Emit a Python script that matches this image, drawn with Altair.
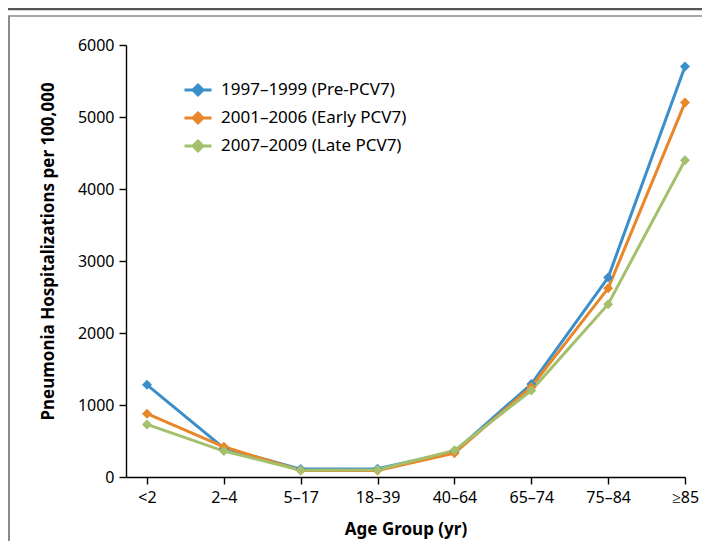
import altair as alt
import pandas as pd

age_groups = ["<2", "2\u20134", "5\u201317", "18\u201339", "40\u201364", "65\u201374", "75\u201384", "\u226585"]
series_names = ["1997\u20131999 (Pre-PCV7)", "2001\u20132006 (Early PCV7)", "2007\u20132009 (Late PCV7)"]
pre_pcv7 = [1280, 400, 110, 115, 350, 1290, 2770, 5700]
early_pcv7 = [880, 420, 90, 90, 330, 1250, 2620, 5200]
late_pcv7 = [730, 360, 95, 100, 370, 1200, 2400, 4400]
colors = ["#3a8fca", "#e8862a", "#a4c06c"]

rows = []
for name, vals in zip(series_names, [pre_pcv7, early_pcv7, late_pcv7]):
    for g, v in zip(age_groups, vals):
        rows.append({"age": g, "rate": v, "period": name})
df = pd.DataFrame(rows)

FONT = "Noto Sans"
W, H = 559, 432
RIGHT = 17

axis_common = dict(domainColor="#000000", tickColor="#000000", labelColor="#000000",
                   titleColor="#000000", labelFont=FONT, titleFont=FONT,
                   titleFontWeight="bold", domainWidth=1.4,
                   tickWidth=1.4, labelFontSize=16, tickSize=7, grid=False)

xenc = alt.X("age:N", sort=age_groups,
             scale=alt.Scale(type="point", padding=0.1366, align=1),
             axis=alt.Axis(title="Age Group (yr)", labelAngle=0, titleFontSize=17,
                           labelPadding=5, titlePadding=16, **axis_common))
yenc = alt.Y("rate:Q", scale=alt.Scale(domain=[0, 6000], nice=False),
             axis=alt.Axis(title="Pneumonia Hospitalizations per 100,000",
                           values=[0, 1000, 2000, 3000, 4000, 5000, 6000], format="d",
                           titleFontSize=17, titleY=206,
                           labelPadding=5, titlePadding=20, **axis_common))
legend = alt.Legend(
    title=None, orient="none", legendX=57, legendY=30,
    symbolType="M-1,0L1,0M0,-0.37L0.37,0L0,0.37L-0.37,0Z",
    symbolSize=729, symbolStrokeWidth=3, labelFontSize=17, labelColor="#000000",
    labelOffset=8, rowPadding=2, labelFont=FONT, symbolOpacity=1, labelLimit=400)
cenc = alt.Color("period:N", sort=series_names,
                 scale=alt.Scale(domain=series_names, range=colors),
                 legend=legend)

base = alt.Chart(df)
lines = base.mark_line(strokeWidth=3).encode(x=xenc, y=yenc, color=cenc, detail="period:N")
points = base.mark_point(shape="diamond", filled=True, size=100, opacity=1).encode(
    x=xenc, y=yenc, color=cenc)

one = pd.DataFrame({"a": [0]})
top_line = alt.Chart(one).mark_rule(color="#555555", strokeWidth=2.5).encode(
    x=alt.value(-118), x2=alt.value(W + RIGHT), y=alt.value(-36))
box_top = alt.Chart(one).mark_rule(color="#8a8a8a", strokeWidth=1.5).encode(
    x=alt.value(-117), x2=alt.value(W + RIGHT), y=alt.value(-29))
box_left = alt.Chart(one).mark_rule(color="#8a8a8a", strokeWidth=2).encode(
    x=alt.value(-117), y=alt.value(-29.7), y2=alt.value(H + 80))

chart = alt.layer(top_line, box_top, box_left, lines, points).properties(
    width=W, height=H,
    autosize=alt.AutoSizeParams(type="none"),
    padding={"left": 118, "top": 37, "right": RIGHT, "bottom": 64},
    background="white",
).configure_view(stroke=None)

chart.save("out.html", embed_options={"renderer": "svg", "actions": False})
